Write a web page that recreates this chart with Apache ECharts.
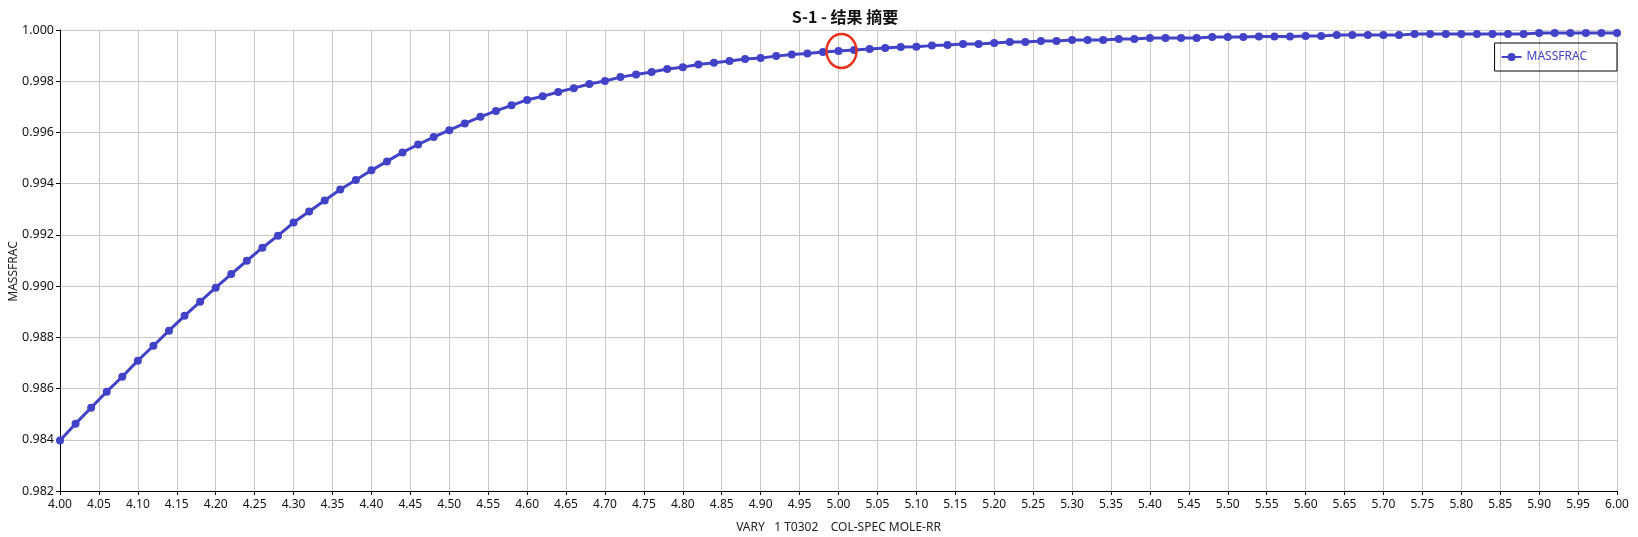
<!DOCTYPE html>
<html>
<head>
<meta charset="utf-8">
<script src="https://cdn.jsdelivr.net/npm/echarts@6/dist/echarts.min.js"></script>
<style>
html,body{margin:0;padding:0;background:#fff;}
#chart{width:1638px;height:537px;}
</style>
</head>
<body>
<div id="chart"></div>
<script>
const xValues = [
4.00,4.02,4.04,4.06,4.08,4.10,4.12,4.14,4.16,4.18,
4.20,4.22,4.24,4.26,4.28,4.30,4.32,4.34,4.36,4.38,
4.40,4.42,4.44,4.46,4.48,4.50,4.52,4.54,4.56,4.58,
4.60,4.62,4.64,4.66,4.68,4.70,4.72,4.74,4.76,4.78,
4.80,4.82,4.84,4.86,4.88,4.90,4.92,4.94,4.96,4.98,
5.00,5.02,5.04,5.06,5.08,5.10,5.12,5.14,5.16,5.18,
5.20,5.22,5.24,5.26,5.28,5.30,5.32,5.34,5.36,5.38,
5.40,5.42,5.44,5.46,5.48,5.50,5.52,5.54,5.56,5.58,
5.60,5.62,5.64,5.66,5.68,5.70,5.72,5.74,5.76,5.78,
5.80,5.82,5.84,5.86,5.88,5.90,5.92,5.94,5.96,5.98,
6.00];
const massfrac = [
0.98397,0.98463,0.98525,0.98588,0.98646,0.98709,0.98767,0.98826,0.98884,0.98939,
0.98994,0.99047,0.99099,0.99150,0.99197,0.99248,0.99291,0.99334,0.99377,0.99414,
0.99452,0.99487,0.99522,0.99553,0.99582,0.99609,0.99635,0.99661,0.99684,0.99706,
0.99727,0.99741,0.99758,0.99773,0.99789,0.99801,0.99816,0.99826,0.99836,0.99848,
0.99855,0.99865,0.99872,0.99879,0.99887,0.99891,0.99898,0.99904,0.99908,0.99914,
0.99918,0.99922,0.99926,0.99930,0.99934,0.99935,0.99939,0.99941,0.99945,0.99945,
0.99949,0.99953,0.99953,0.99957,0.99957,0.99961,0.99961,0.99961,0.99965,0.99965,
0.99969,0.99969,0.99969,0.99969,0.99973,0.99973,0.99973,0.99975,0.99975,0.99975,
0.99977,0.99977,0.99980,0.99980,0.99980,0.99980,0.99980,0.99984,0.99984,0.99984,
0.99984,0.99984,0.99984,0.99984,0.99984,0.99988,0.99988,0.99988,0.99988,0.99988,
0.99988];
const highlightIndex = 50; // x = 5.00
const titleText = 'S-1 - 结果 摘要';
const seriesName = 'MASSFRAC';
const xAxisName = 'VARY   1 T0302    COL-SPEC MOLE-RR';
const yAxisName = 'MASSFRAC';

const points = xValues.map((x, i) => [x, massfrac[i]]);
const font = "'Noto Sans', 'Noto Sans CJK SC', sans-serif";
const blue = '#4242c8';

const chart = echarts.init(document.getElementById('chart'), null, {renderer: 'canvas'});
chart.setOption({
  animation: false,
  backgroundColor: '#fff',
  title: {
    text: titleText,
    left: 840,
    textAlign: 'center',
    top: 4,
    textStyle: {fontFamily: "'Noto Sans CJK SC', sans-serif", fontSize: 16, fontWeight: 'bold', color: '#111'}
  },
  legend: {
    data: [seriesName],
    right: 21,
    top: 43,
    orient: 'vertical',
    borderColor: '#000',
    borderWidth: 1,
    borderRadius: 0,
    padding: [8, 30, 8, 6],
    itemWidth: 20,
    itemHeight: 10,
    itemGap: 6,
    textStyle: {fontFamily: font, fontSize: 12, color: blue}
  },
  grid: {left: 60, right: 21, top: 30, bottom: 46, containLabel: false, outerBoundsMode: 'none'},
  xAxis: {
    type: 'value',
    min: 4.0,
    max: 6.0,
    interval: 0.05,
    name: xAxisName,
    nameLocation: 'middle',
    nameGap: 31,
    nameTextStyle: {fontFamily: font, fontSize: 12, color: '#222'},
    axisLine: {show: true, lineStyle: {color: '#000', width: 1}},
    axisTick: {show: true, length: 4, lineStyle: {color: '#000'}},
    axisLabel: {fontFamily: font, fontSize: 12, color: '#111', margin: 8,
      formatter: v => v.toFixed(2)},
    splitLine: {show: true, lineStyle: {color: '#c8c8c8', width: 1}}
  },
  yAxis: {
    type: 'value',
    min: 0.982,
    max: 1.000,
    interval: 0.002,
    name: yAxisName,
    nameLocation: 'middle',
    nameGap: 40,
    nameMoveOverlap: false,
    nameTextStyle: {fontFamily: font, fontSize: 12, color: '#222', padding: [0, 22, 0, 0]},
    axisLine: {show: true, lineStyle: {color: '#000', width: 1}},
    axisTick: {show: true, length: 4, lineStyle: {color: '#000'}},
    axisLabel: {fontFamily: font, fontSize: 12.5, color: '#111', margin: 6,
      formatter: v => v.toFixed(3)},
    splitLine: {show: true, lineStyle: {color: '#c8c8c8', width: 1}}
  },
  series: [{
    name: seriesName,
    type: 'line',
    data: points,
    symbol: 'circle',
    symbolSize: 8,
    showSymbol: true,
    lineStyle: {color: blue, width: 3},
    itemStyle: {color: blue},
    markPoint: {
      symbol: 'circle',
      symbolSize: [30, 34],
      symbolOffset: [3, 0],
      silent: true,
      label: {show: false},
      itemStyle: {color: 'rgba(0,0,0,0)', borderColor: '#e8301c', borderWidth: 2.5},
      data: [{coord: points[highlightIndex]}]
    }
  }]
});
</script>
</body>
</html>
